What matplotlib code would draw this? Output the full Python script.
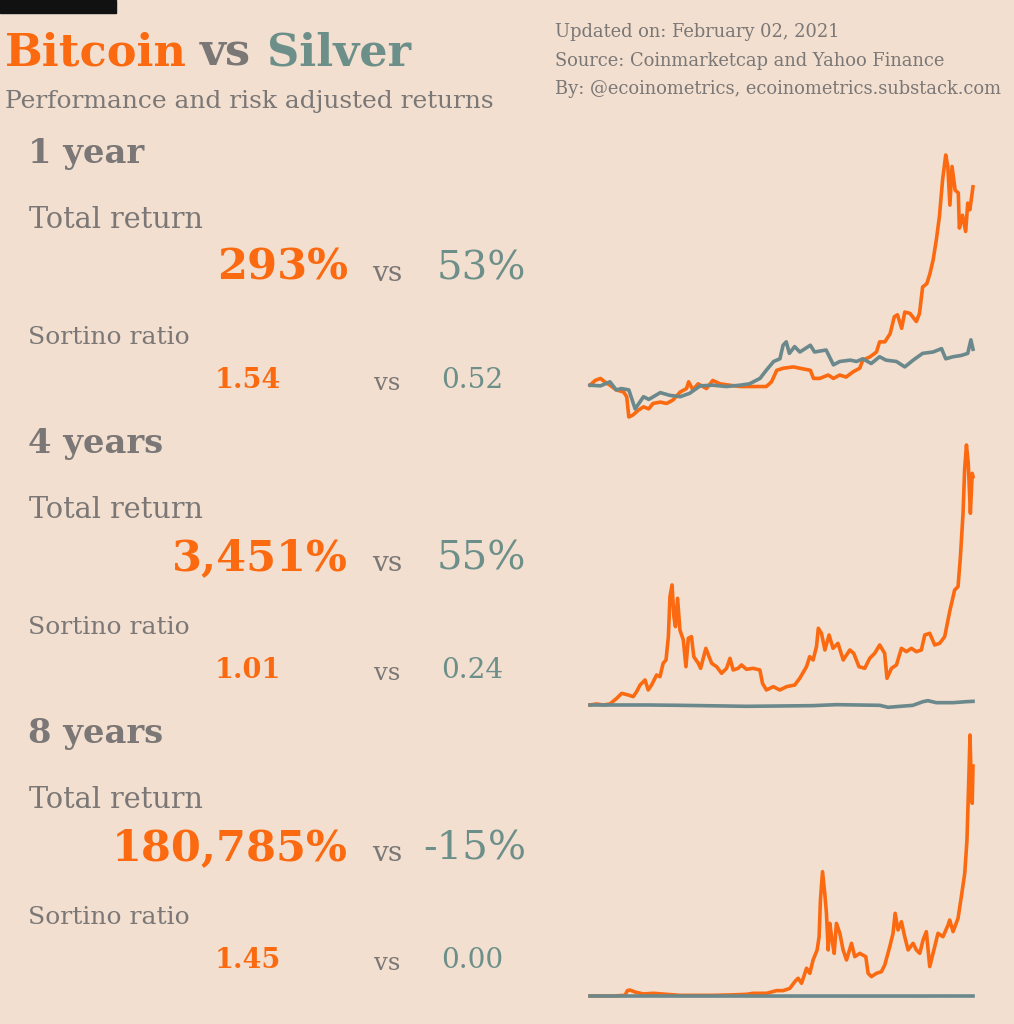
import matplotlib
matplotlib.use("Agg")
import matplotlib.pyplot as plt
from matplotlib.patches import Rectangle

# colours
bg = "#F2DFCF"
orange = "#FB6A10"
teal = "#6C8F8A"
silver_line = "#6B898C"
gray = "#7A7776"

plt.rcParams["font.family"] = ["DejaVu Serif"]

# ---- data (index, start = 1) ----
# 1 year
btc_1y_day = [0, 5, 10, 14, 19, 25, 32, 35, 37, 41, 46, 51, 56, 60, 67, 73, 79, 86, 92, 94,
              98, 103, 111, 117, 124, 133, 143, 156, 168, 173, 178, 184, 194, 200, 210, 213,
              219, 227, 232, 238, 244, 251, 257, 260, 267, 273, 276, 281, 286, 290, 293, 297,
              300, 305, 311, 314, 317, 321, 324, 327, 330, 333, 336, 339, 341, 343, 345, 348,
              351, 352, 355, 358, 360, 362, 365]
btc_1y = [1.00, 1.07, 1.10, 1.05, 1.00, 0.93, 0.90, 0.83, 0.53, 0.56, 0.63, 0.68, 0.65, 0.73,
          0.75, 0.73, 0.78, 0.90, 0.95, 1.05, 0.93, 1.02, 0.95, 1.07, 1.02, 1.00, 0.98, 0.98,
          0.98, 1.05, 1.22, 1.25, 1.27, 1.25, 1.22, 1.10, 1.10, 1.15, 1.10, 1.15, 1.12, 1.20,
          1.25, 1.37, 1.42, 1.49, 1.64, 1.64, 1.76, 2.01, 2.04, 1.84, 2.08, 2.06, 1.94, 2.06,
          2.45, 2.50, 2.65, 2.85, 3.14, 3.49, 4.03, 4.40, 4.23, 3.66, 4.23, 3.88, 3.84, 3.32,
          3.51, 3.27, 3.69, 3.59, 3.93]
slv_1y_day = [0, 10, 19, 25, 30, 37, 43, 51, 56, 67, 76, 86, 95, 105, 117, 130, 143, 152, 162,
              168, 175, 181, 184, 187, 190, 195, 200, 210, 214, 225, 232, 238, 248, 254, 260,
              268, 276, 282, 292, 300, 308, 317, 327, 335, 339, 346, 354, 360, 363, 365]
slv_1y = [1.00, 0.99, 1.05, 0.93, 0.95, 0.93, 0.65, 0.83, 0.79, 0.89, 0.85, 0.83, 0.88, 0.99,
          1.00, 0.98, 1.00, 1.02, 1.10, 1.22, 1.35, 1.39, 1.59, 1.64, 1.47, 1.57, 1.49, 1.59,
          1.49, 1.52, 1.30, 1.35, 1.37, 1.35, 1.39, 1.32, 1.42, 1.37, 1.35, 1.27, 1.37, 1.47,
          1.49, 1.54, 1.39, 1.42, 1.44, 1.47, 1.67, 1.53]

# 4 years
btc_4y_day = [0, 25, 51, 76, 102, 121, 146, 165, 178, 191, 210, 222, 235, 254, 267, 279, 290,
              299, 305, 313, 320, 326, 334, 343, 356, 366, 375, 387, 396, 413, 422, 442, 464,
              483, 502, 521, 534, 546, 565, 578, 597, 622, 648, 658, 673, 699, 724, 750, 781,
              800, 826, 838, 851, 864, 871, 883, 896, 912, 927, 946, 966, 991, 1006, 1026, 1048,
              1067, 1086, 1105, 1124, 1133, 1150, 1169, 1188, 1207, 1226, 1245, 1264, 1277,
              1296, 1315, 1334, 1353, 1372, 1391, 1404, 1413, 1423, 1429, 1436, 1443, 1451,
              1458, 1461]
btc_4y = [1.00, 1.15, 1.00, 1.15, 2.01, 2.76, 2.51, 2.26, 3.02, 4.02, 4.78, 3.27, 4.02, 5.53,
          5.28, 7.30, 7.80, 11.33, 17.37, 19.14, 14.35, 12.84, 17.12, 12.34, 10.82, 6.79, 11.08,
          11.33, 8.30, 7.30, 6.54, 9.56, 7.30, 6.79, 5.79, 6.54, 8.05, 6.29, 6.54, 7.05, 6.39,
          6.54, 6.29, 4.27, 3.27, 3.77, 3.27, 3.77, 4.02, 5.03, 6.79, 8.30, 7.80, 9.82, 12.59,
          11.83, 9.31, 11.58, 9.56, 10.32, 7.80, 9.31, 8.81, 6.79, 6.54, 8.05, 8.81, 10.07,
          8.81, 5.03, 6.54, 7.05, 9.56, 9.06, 9.56, 9.06, 9.31, 11.58, 11.83, 10.07, 10.32,
          11.33, 15.11, 18.38, 18.88, 23.42, 29.97, 36.52, 40.29, 37.52, 29.97, 36.01, 35.51]
slv_4y_day = [0, 216, 343, 597, 851, 940, 1105, 1137, 1232, 1270, 1289, 1321, 1385, 1436, 1461]
slv_4y = [1.00, 1.00, 0.95, 0.80, 0.90, 1.05, 0.95, 0.65, 0.95, 1.50, 1.65, 1.35, 1.35, 1.50, 1.55]

# 8 years
btc_8y_day = [0, 178, 267, 285, 305, 343, 407, 483, 584, 686, 813, 940, 1067, 1194, 1245, 1347,
              1423, 1474, 1525, 1563, 1588, 1614, 1652, 1677, 1702, 1733, 1748, 1758, 1774,
              1791, 1804, 1817, 1829, 1847, 1863, 1880, 1906, 1931, 1957, 1995, 2020, 2058,
              2104, 2122, 2147, 2185, 2223, 2249, 2287, 2312, 2328, 2350, 2376, 2401, 2427,
              2465, 2490, 2516, 2541, 2566, 2592, 2630, 2655, 2693, 2732, 2744, 2770, 2808,
              2833, 2859, 2876, 2892, 2899, 2909, 2916, 2922]
btc_8y = [1, 1, 6, 43, 48, 32, 17, 22, 14, 6, 6, 6, 9, 14, 22, 22, 43, 43, 61, 114, 140, 101,
          219, 179, 284, 363, 467, 756, 978, 808, 651, 363, 572, 441, 336, 572, 494, 363, 284,
          415, 310, 336, 310, 179, 153, 179, 192, 245, 389, 494, 651, 520, 585, 467, 363, 415,
          363, 336, 441, 507, 232, 389, 494, 467, 559, 598, 507, 612, 782, 965, 1227, 1778,
          2053, 1647, 1516, 1809]
slv_8y_day = [0, 150, 300, 600, 900, 1200, 1500, 1800, 2100, 2400, 2550, 2650, 2750, 2922]
slv_8y = [1.0, 0.75, 0.70, 0.62, 0.55, 0.52, 0.52, 0.52, 0.48, 0.52, 0.45, 0.85, 0.80, 0.85]

periods = ["1 year", "4 years", "8 years"]
btc_ret = ["293%", "3,451%", "180,785%"]
slv_ret = ["53%", "55%", "-15%"]
btc_sortino = ["1.54", "1.01", "1.45"]
slv_sortino = ["0.52", "0.24", "0.00"]

# ---- figure ----
W, H = 1014, 1024
fig = plt.figure(figsize=(W / 100, H / 100), dpi=100, facecolor=bg)
r = fig.canvas.get_renderer()


def fx(x):
    return x / W


def fy(y):
    return 1 - y / H


def fit(s, width, weight="normal"):
    # font size that makes s about width pixels wide
    t = fig.text(0, 0, s, fontsize=20, fontweight=weight)
    w = t.get_window_extent(r).width
    t.remove()
    return 20 * width / w


fig.patches.append(Rectangle((0, fy(13)), fx(116), 13 / H, transform=fig.transFigure,
                             color="#111111", zorder=5))

# title
ts = fit("Bitcoin vs Silver", 408, "bold")
fig.text(fx(5), fy(65), "Bitcoin", color=orange, fontsize=ts, fontweight="bold", va="baseline")
fig.text(fx(200), fy(65), "vs", color=gray, fontsize=ts, fontweight="bold", va="baseline")
fig.text(fx(267), fy(65), "Silver", color=teal, fontsize=ts, fontweight="bold", va="baseline")
fig.text(fx(5), fy(108), "Performance and risk adjusted returns", color=gray,
         fontsize=fit("Performance and risk adjusted returns", 488), va="baseline")

info = ["Updated on: February 02, 2021",
        "Source: Coinmarketcap and Yahoo Finance",
        "By: @ecoinometrics, ecoinometrics.substack.com"]
isz = fit(info[2], 447)
for i, line in enumerate(info):
    fig.text(fx(555), fy(37 + 28.5 * i), line, color=gray, fontsize=isz, va="baseline")

# text blocks
s_head = fit("8 years", 135, "bold")
s_lab = fit("Total return", 174)
s_sort = fit("Sortino ratio", 161)
s_big = fit("180,785%", 236, "bold")
s_vs = fit("vs", 30)
s_slv = fit("-15%", 103)
s_small = fit("1.54", 66, "bold")
s_svs = fit("vs", 26)
s_ssl = fit("0.52", 62)

for i in range(3):
    o = 290 * i
    fig.text(fx(28), fy(163 + o), periods[i], color=gray, fontsize=s_head,
             fontweight="bold", va="baseline")
    fig.text(fx(29), fy(228 + o), "Total return", color=gray, fontsize=s_lab, va="baseline")
    fig.text(fx(348), fy(280 + o), btc_ret[i], color=orange, fontsize=s_big,
             fontweight="bold", va="baseline", ha="right")
    fig.text(fx(372), fy(281 + o), "vs", color=gray, fontsize=s_vs, va="baseline")
    fig.text(fx(526), fy(280 + o), slv_ret[i], color=teal, fontsize=s_slv,
             va="baseline", ha="right")
    fig.text(fx(28), fy(344 + o), "Sortino ratio", color=gray, fontsize=s_sort, va="baseline")
    fig.text(fx(215), fy(388 + o), btc_sortino[i], color=orange, fontsize=s_small,
             fontweight="bold", va="baseline")
    fig.text(fx(374), fy(390 + o), "vs", color=gray, fontsize=s_svs, va="baseline")
    fig.text(fx(441), fy(388 + o), slv_sortino[i], color=teal, fontsize=s_ssl, va="baseline")

# line charts
charts = [
    (btc_1y_day, btc_1y, slv_1y_day, slv_1y, 155, 417, (0.53, 4.40), 365),
    (btc_4y_day, btc_4y, slv_4y_day, slv_4y, 445, 711.6, (0, 40.29), 1461),
    (btc_8y_day, btc_8y, slv_8y_day, slv_8y, 735, 996.1, (0, 2053), 2922),
]
for bd, bv, sd, sv, top, bot, ylim, xmax in charts:
    ax = fig.add_axes([fx(590), fy(bot), fx(973) - fx(590), (bot - top) / H])
    ax.patch.set_alpha(0)
    ax.plot(bd, bv, color=orange, lw=2.6, clip_on=False, solid_joinstyle="round")
    ax.plot(sd, sv, color=silver_line, lw=2.6, clip_on=False)
    ax.set_xlim(0, xmax)
    ax.set_ylim(*ylim)
    ax.set_axis_off()

fig.savefig("out.png", dpi=100, facecolor=bg)
